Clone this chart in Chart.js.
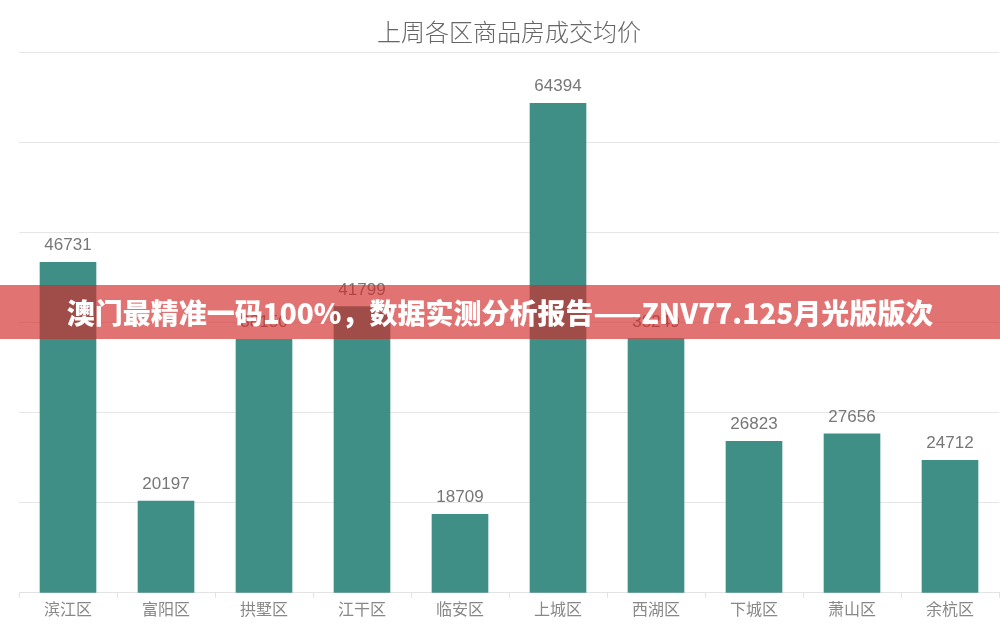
<!DOCTYPE html>
<html>
<head>
<meta charset="utf-8">
<script src="https://cdn.jsdelivr.net/npm/chart.js@4.4.1/dist/chart.umd.min.js"></script>
<style>
  html, body { margin: 0; padding: 0; background: #fff; }
  #wrap { position: relative; width: 1000px; height: 626px; }
  #banner {
    position: absolute; left: 0; top: 285px; width: 1000px; height: 54px;
    background: rgba(211, 43, 43, 0.66);
    color: #fff; font: 900 28px "Noto Sans CJK SC", sans-serif;
    line-height: 54px; text-align: center; white-space: nowrap;
  }
</style>
</head>
<body>
<div id="wrap">
  <canvas id="chart" width="1000" height="626"></canvas>
  <div id="banner">澳门最精准一码100%，数据实测分析报告——ZNV77.125月光版版次</div>
</div>
<script>
// data
var districts = ['滨江区', '富阳区', '拱墅区', '江干区', '临安区', '上城区', '西湖区', '下城区', '萧山区', '余杭区'];
var avgPrice = [46731, 20197, 38150, 41799, 18709, 64394, 38249, 26823, 27656, 24712];
var yTicks = [10000, 20000, 30000, 40000, 50000, 60000, 70000];

// value labels above bars
var barLabels = {
    id: 'barLabels',
    afterDatasetsDraw: function(chart) {
        var ctx = chart.ctx, meta = chart.getDatasetMeta(0);
        ctx.save();
        ctx.fillStyle = '#777';
        ctx.font = '17px "Liberation Sans", Arial, sans-serif';
        ctx.textAlign = 'center';
        ctx.textBaseline = 'alphabetic';
        meta.data.forEach(function(bar, i) {
            ctx.fillText(String(avgPrice[i]), bar.x, bar.y - 12);
        });
        ctx.restore();
    }
};

new Chart(document.getElementById('chart'), {
    type: 'bar',
    data: {
        labels: districts,
        datasets: [{
            data: avgPrice,
            backgroundColor: '#3f8f86',
            barThickness: 56
        }]
    },
    options: {
        responsive: false,
        animation: false,
        layout: { padding: { left: 19, right: 1, top: 0, bottom: 5 } },
        plugins: {
            legend: { display: false },
            tooltip: { enabled: false },
            title: {
                display: true,
                text: '上周各区商品房成交均价',
                color: '#666',
                font: { size: 24, weight: '300', family: '"Noto Sans CJK SC", sans-serif' },
                padding: { top: 17, bottom: 7 }
            }
        },
        scales: {
            x: {
                grid: { display: true, drawOnChartArea: false, offset: true, tickLength: 5, color: '#e3e3e3' },
                border: { color: '#e3e3e3' },
                ticks: { color: '#888', font: { size: 16, family: '"Noto Sans CJK SC", sans-serif' }, padding: 2 }
            },
            y: {
                min: 10000,
                max: 70000,
                afterBuildTicks: function(axis) { axis.ticks = yTicks.map(function(v) { return { value: v }; }); },
                ticks: { display: false },
                grid: { color: '#e6e6e6', drawTicks: false },
                border: { display: false }
            }
        }
    },
    plugins: [barLabels]
});
</script>
</body>
</html>
